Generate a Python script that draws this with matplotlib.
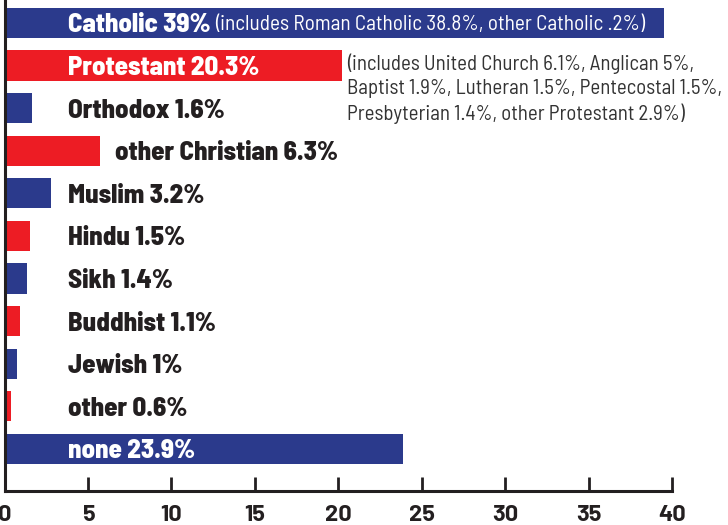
import matplotlib
matplotlib.use("Agg")
import matplotlib.pyplot as plt

categories = ["Catholic", "Protestant", "Orthodox", "other Christian", "Muslim",
              "Hindu", "Sikh", "Buddhist", "Jewish", "other", "none"]
percent_labels = ["39%", "20.3%", "1.6%", "6.3%", "3.2%", "1.5%", "1.4%",
                  "1.1%", "1%", "0.6%", "23.9%"]
# bar lengths as drawn in the picture
bar_lengths = [39.5, 20.2, 1.65, 5.7, 2.8, 1.55, 1.35, 0.9, 0.75, 0.4, 23.9]
bar_colors = ["#2b3a8c", "#ed1c24", "#2b3a8c", "#ed1c24", "#2b3a8c", "#ed1c24",
              "#2b3a8c", "#ed1c24", "#2b3a8c", "#ed1c24", "#2b3a8c"]
inside_label = [True, True, False, False, False, False, False, False, False, False, True]
catholic_note = "(includes Roman Catholic 38.8%, other Catholic .2%)"
protestant_note = ("(includes United Church 6.1%, Anglican 5%,\n"
                   "Baptist 1.9%, Lutheran 1.5%, Pentecostal 1.5%,\n"
                   "Presbyterian 1.4%, other Protestant 2.9%)")
xticks = [0, 5, 10, 15, 20, 25, 30, 35, 40]

DARK = "#231f20"
LABEL_FONT = ["Barlow Semi Condensed", "DejaVu Sans"]
NOTE_FONT = ["Barlow Semi Condensed", "DejaVu Sans"]
TICK_FONT = ["Barlow", "DejaVu Sans"]

fig = plt.figure(figsize=(7.28, 5.25), dpi=100)
ax = fig.add_axes([4.5 / 728, 1 - 491 / 525, (672 - 4.5) / 728, 491 / 525])

ypos = list(range(len(categories)))
ax.barh(ypos, bar_lengths, height=0.71, color=bar_colors, zorder=2)

ax.set_xlim(0, 40)
ax.set_ylim(10.99, -0.54)

label_x = 3.8
fig.canvas.draw()
for i, (cat, pct, length, inside) in enumerate(zip(categories, percent_labels,
                                                     bar_lengths, inside_label)):
    x = label_x if length < label_x - 0.5 or inside else length + 0.95
    color = "white" if inside else DARK
    t = ax.text(x, i, f"{cat} {pct}", color=color, fontsize=19.3, fontweight=800,
                family=LABEL_FONT, va="center_baseline", ha="left", zorder=3)
    if i == 0:
        bb = t.get_window_extent(renderer=fig.canvas.get_renderer())
        inv = ax.transData.inverted()
        xend = inv.transform((bb.x1, bb.y0))[0]
        ax.text(xend + 0.3, i, catholic_note, color="white", fontsize=15.3,
                fontweight="normal", family=NOTE_FONT, va="center_baseline",
                ha="left", zorder=3)

ax.text(20.52, 0.72, protestant_note, color="#333333", fontsize=15,
        fontweight="normal", family=NOTE_FONT, va="top", ha="left",
        linespacing=1.33, zorder=3)

for side in ["top", "right"]:
    ax.spines[side].set_visible(False)
for side in ["left", "bottom"]:
    ax.spines[side].set_color(DARK)
    ax.spines[side].set_linewidth(2.2)

ax.set_yticks([])
ax.set_xticks(xticks)
ax.set_xticklabels([str(v) for v in xticks], fontsize=17, fontweight="bold",
                   family=TICK_FONT, color=DARK)
ax.tick_params(axis="x", direction="in", length=10, width=2, color=DARK, pad=10)
ax.set_facecolor("white")
fig.patch.set_facecolor("white")

fig.savefig("out.png", dpi=100)
